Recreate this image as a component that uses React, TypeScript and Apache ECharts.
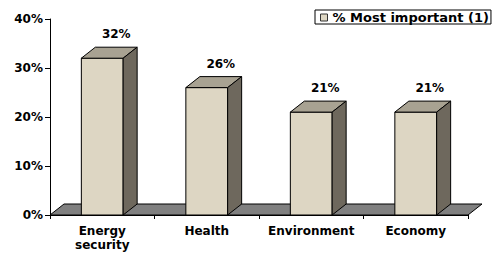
import React, { useEffect, useRef } from "react";
import * as echarts from "echarts";

const categories = ["Energy security", "Health", "Environment", "Economy"];
const values = [0.32, 0.26, 0.21, 0.21];
const seriesName = "% Most important (1)";
const yTicks = { min: 0, max: 0.4, interval: 0.1 };

const FONT = "'DejaVu Sans', Verdana, sans-serif";
const DX = 14;
const DY = -11;
const FRONT = "#DDD6C3";
const TOP = "#A8A292";
const SIDE = "#6E685D";
const FLOOR = "#808080";

const pct = (v: number) => `${Math.round(v * 100)}%`;

export default function App() {
  const ref = useRef<HTMLDivElement>(null);
  useEffect(() => {
    if (!ref.current) return;
    const chart = echarts.init(ref.current, null, { renderer: "svg" });
    chart.setOption({
      animation: false,
      backgroundColor: "#fff",
      grid: { left: 50, right: 24, top: 19, bottom: 40, containLabel: false },
      legend: {
        data: [{ name: seriesName, icon: "rect" }],
        left: 315,
        top: 10,
        itemWidth: 7,
        itemHeight: 7,
        padding: [1, 2, 0, 5],
        borderColor: "#000",
        borderWidth: 1,
        selectedMode: false,
        itemStyle: { color: FRONT, borderColor: "#333", borderWidth: 1 },
        textStyle: { fontFamily: FONT, fontWeight: "bold", fontSize: 13, color: "#000", lineHeight: 11 },
      },
      xAxis: {
        type: "category",
        data: categories,
        boundaryGap: true,
        axisLine: { show: true, lineStyle: { color: "#000", width: 1 } },
        axisTick: { show: true, interval: 0, length: 4, lineStyle: { color: "#000" } },
        axisLabel: {
          interval: 0,
          margin: 9,
          color: "#000",
          fontFamily: FONT,
          fontWeight: "bold",
          fontSize: 12,
          lineHeight: 14,
          formatter: (v: string) => (v.length > 12 ? v.replace(" ", "\n") : v),
        },
        splitLine: { show: false },
      },
      yAxis: {
        type: "value",
        min: yTicks.min,
        max: yTicks.max,
        interval: yTicks.interval,
        axisLine: { show: true, lineStyle: { color: "#000", width: 1 } },
        axisTick: { show: true, length: 5, lineStyle: { color: "#000" } },
        axisLabel: {
          margin: 7,
          color: "#000",
          fontFamily: FONT,
          fontWeight: "bold",
          fontSize: 12,
          formatter: (v: number) => pct(v),
        },
        splitLine: { show: false },
      },
      series: [
        {
          type: "custom",
          name: "floor",
          silent: true,
          data: [[0, 0]],
          encode: { x: 0, y: 1 },
          renderItem: (params: any, api: any) => {
            const cs = params.coordSys;
            const x0 = cs.x;
            const x1 = cs.x + cs.width;
            const yb = cs.y + cs.height;
            return {
              type: "polygon",
              shape: {
                points: [
                  [x0, yb],
                  [x1, yb],
                  [x1 + DX, yb + DY],
                  [x0 + DX, yb + DY],
                ],
              },
              style: { fill: FLOOR, stroke: "#000", lineWidth: 1 },
            };
          },
        },
        {
          type: "custom",
          name: seriesName,
          itemStyle: { color: FRONT },
          data: values.map((v, i) => [i, v]),
          encode: { x: 0, y: 1 },
          renderItem: (params: any, api: any) => {
            const idx = api.value(0);
            const val = api.value(1);
            const [cx, yt] = api.coord([idx, val]);
            const [, y0] = api.coord([idx, 0]);
            const w = api.size([1, 0])[0] * 0.4;
            const xl = cx - w / 2;
            const xr = cx + w / 2;
            const stroke = { stroke: "#000", lineWidth: 1 };
            return {
              type: "group",
              children: [
                {
                  type: "rect",
                  shape: { x: xl, y: yt, width: w, height: y0 - yt },
                  style: { fill: FRONT, ...stroke },
                },
                {
                  type: "polygon",
                  shape: { points: [[xl, yt], [xr, yt], [xr + DX, yt + DY], [xl + DX, yt + DY]] },
                  style: { fill: TOP, ...stroke },
                },
                {
                  type: "polygon",
                  shape: { points: [[xr, yt], [xr, y0], [xr + DX, y0 + DY], [xr + DX, yt + DY]] },
                  style: { fill: SIDE, ...stroke },
                },
                {
                  type: "text",
                  x: cx + DX,
                  y: yt + DY - 13,
                  style: {
                    text: pct(val),
                    fill: "#000",
                    font: `bold 12px ${FONT}`,
                    textAlign: "center",
                    textVerticalAlign: "middle",
                  },
                },
              ],
            };
          },
        },
      ],
    });
    return () => chart.dispose();
  }, []);
  return (
    <div
      ref={ref}
      style={{ position: "fixed", left: 0, top: 0, width: 492, height: 255 }}
    />
  );
}
